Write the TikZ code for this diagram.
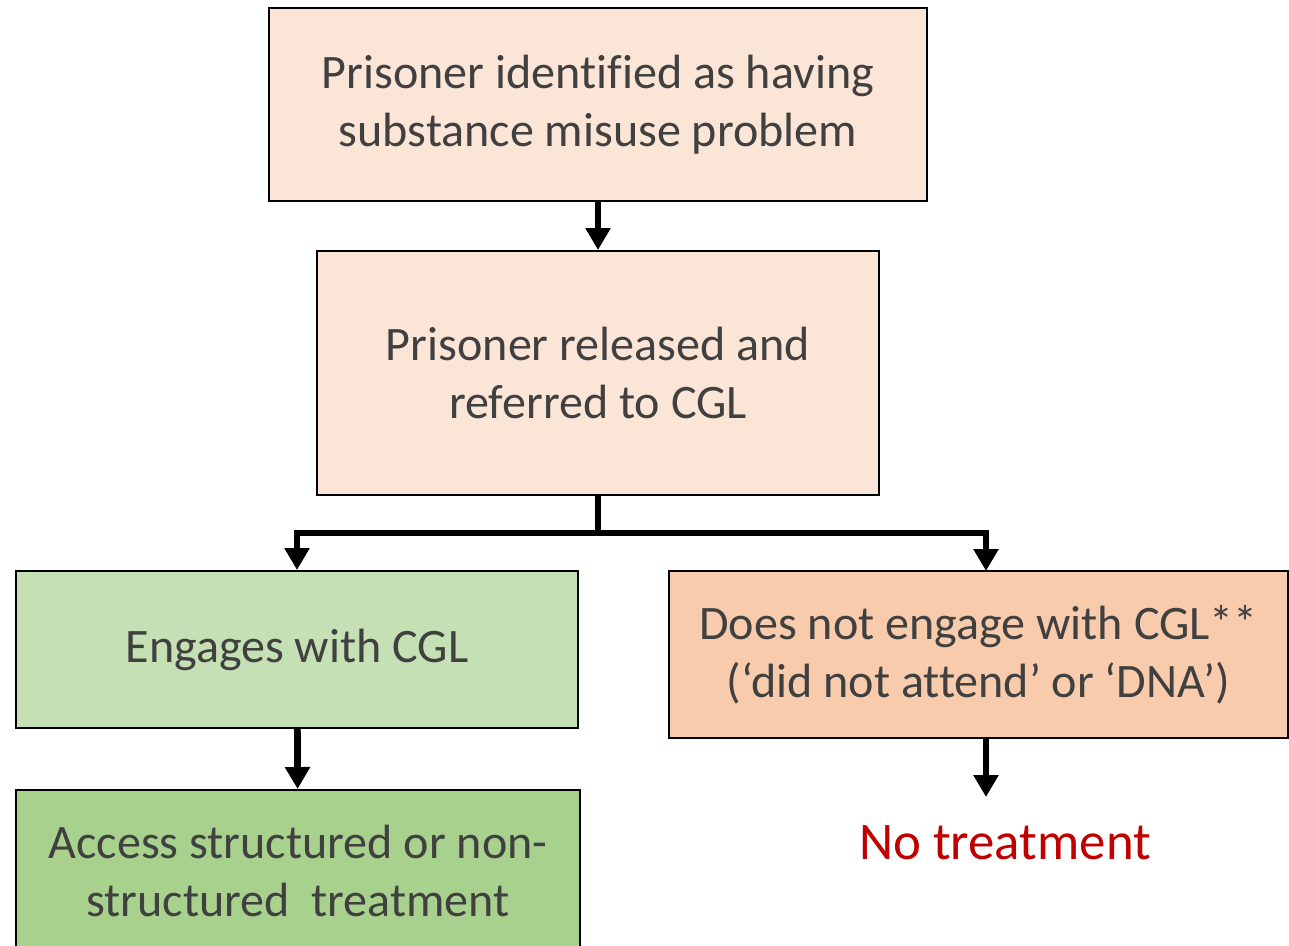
\documentclass[tikz,border=0pt]{standalone}
\usepackage{fontspec}
\setmainfont[Ligatures={NoCommon}]{Carlito}
\usetikzlibrary{arrows.meta}
\definecolor{boxtext}{HTML}{404040}
\definecolor{peachlight}{HTML}{FBE5D6}
\definecolor{peach}{HTML}{F8CBAD}
\definecolor{greenlight}{HTML}{C5E0B4}
\definecolor{green}{HTML}{A9D18E}
\definecolor{notreat}{HTML}{C00000}
\tikzset{
  stage/.style={draw=black, line width=1.4pt, align=center, text=boxtext,
    inner sep=0pt, font=\fontsize{34.2}{41}\selectfont},
  flow/.style={line width=4.8pt, line join=miter,
    -{Triangle[width=0.6cm,length=0.55cm]}}
}
\begin{document}
\begin{tikzpicture}
  \useasboundingbox (0,0) rectangle (32.225,-23.65);
  % boxes of the pathway
  \node[stage, fill=peachlight, minimum width=16.45cm, minimum height=4.825cm]
    (identified) at (14.95,-2.6125) {Prisoner identified as having\\substance misuse problem};
  \node[stage, fill=peachlight, minimum width=14.05cm, minimum height=6.1cm]
    (released) at (14.95,-9.325) {Prisoner released and\\referred to CGL};
  \node[stage, fill=greenlight, minimum width=14.05cm, minimum height=3.925cm]
    (engages) at (7.425,-16.2375) {Engages with CGL};
  \node[stage, fill=peach, minimum width=15.475cm, minimum height=4.175cm]
    (dna) at (24.4625,-16.3625) {Does not engage with CGL**\\(‘did not attend’ or ‘DNA’)};
  \node[stage, fill=green, minimum width=14.1cm, minimum height=4.05cm]
    (access) at (7.45,-21.775) {Access structured or non-\\structured\ \ treatment};
  \node[text=notreat, font=\fontsize{37.6}{45}\selectfont]
    (none) at (25.125,-21.075) {No treatment};
  % connectors
  \coordinate (split) at (14.95,-13.325);
  \coordinate (dnatop) at (24.65,-14.275);
  \coordinate (dnabot) at (24.65,-18.45);
  \coordinate (noneend) at (24.65,-19.925);
  \draw[flow] (identified) -- (released);
  \draw[line width=4.8pt] (released.south) -- (split);
  \draw[flow] (split) -| (engages.north);
  \draw[flow] (split) -| (dnatop);
  \draw[flow] (engages) -- (access);
  \draw[flow] (dnabot) -- (noneend);
\end{tikzpicture}
\end{document}
